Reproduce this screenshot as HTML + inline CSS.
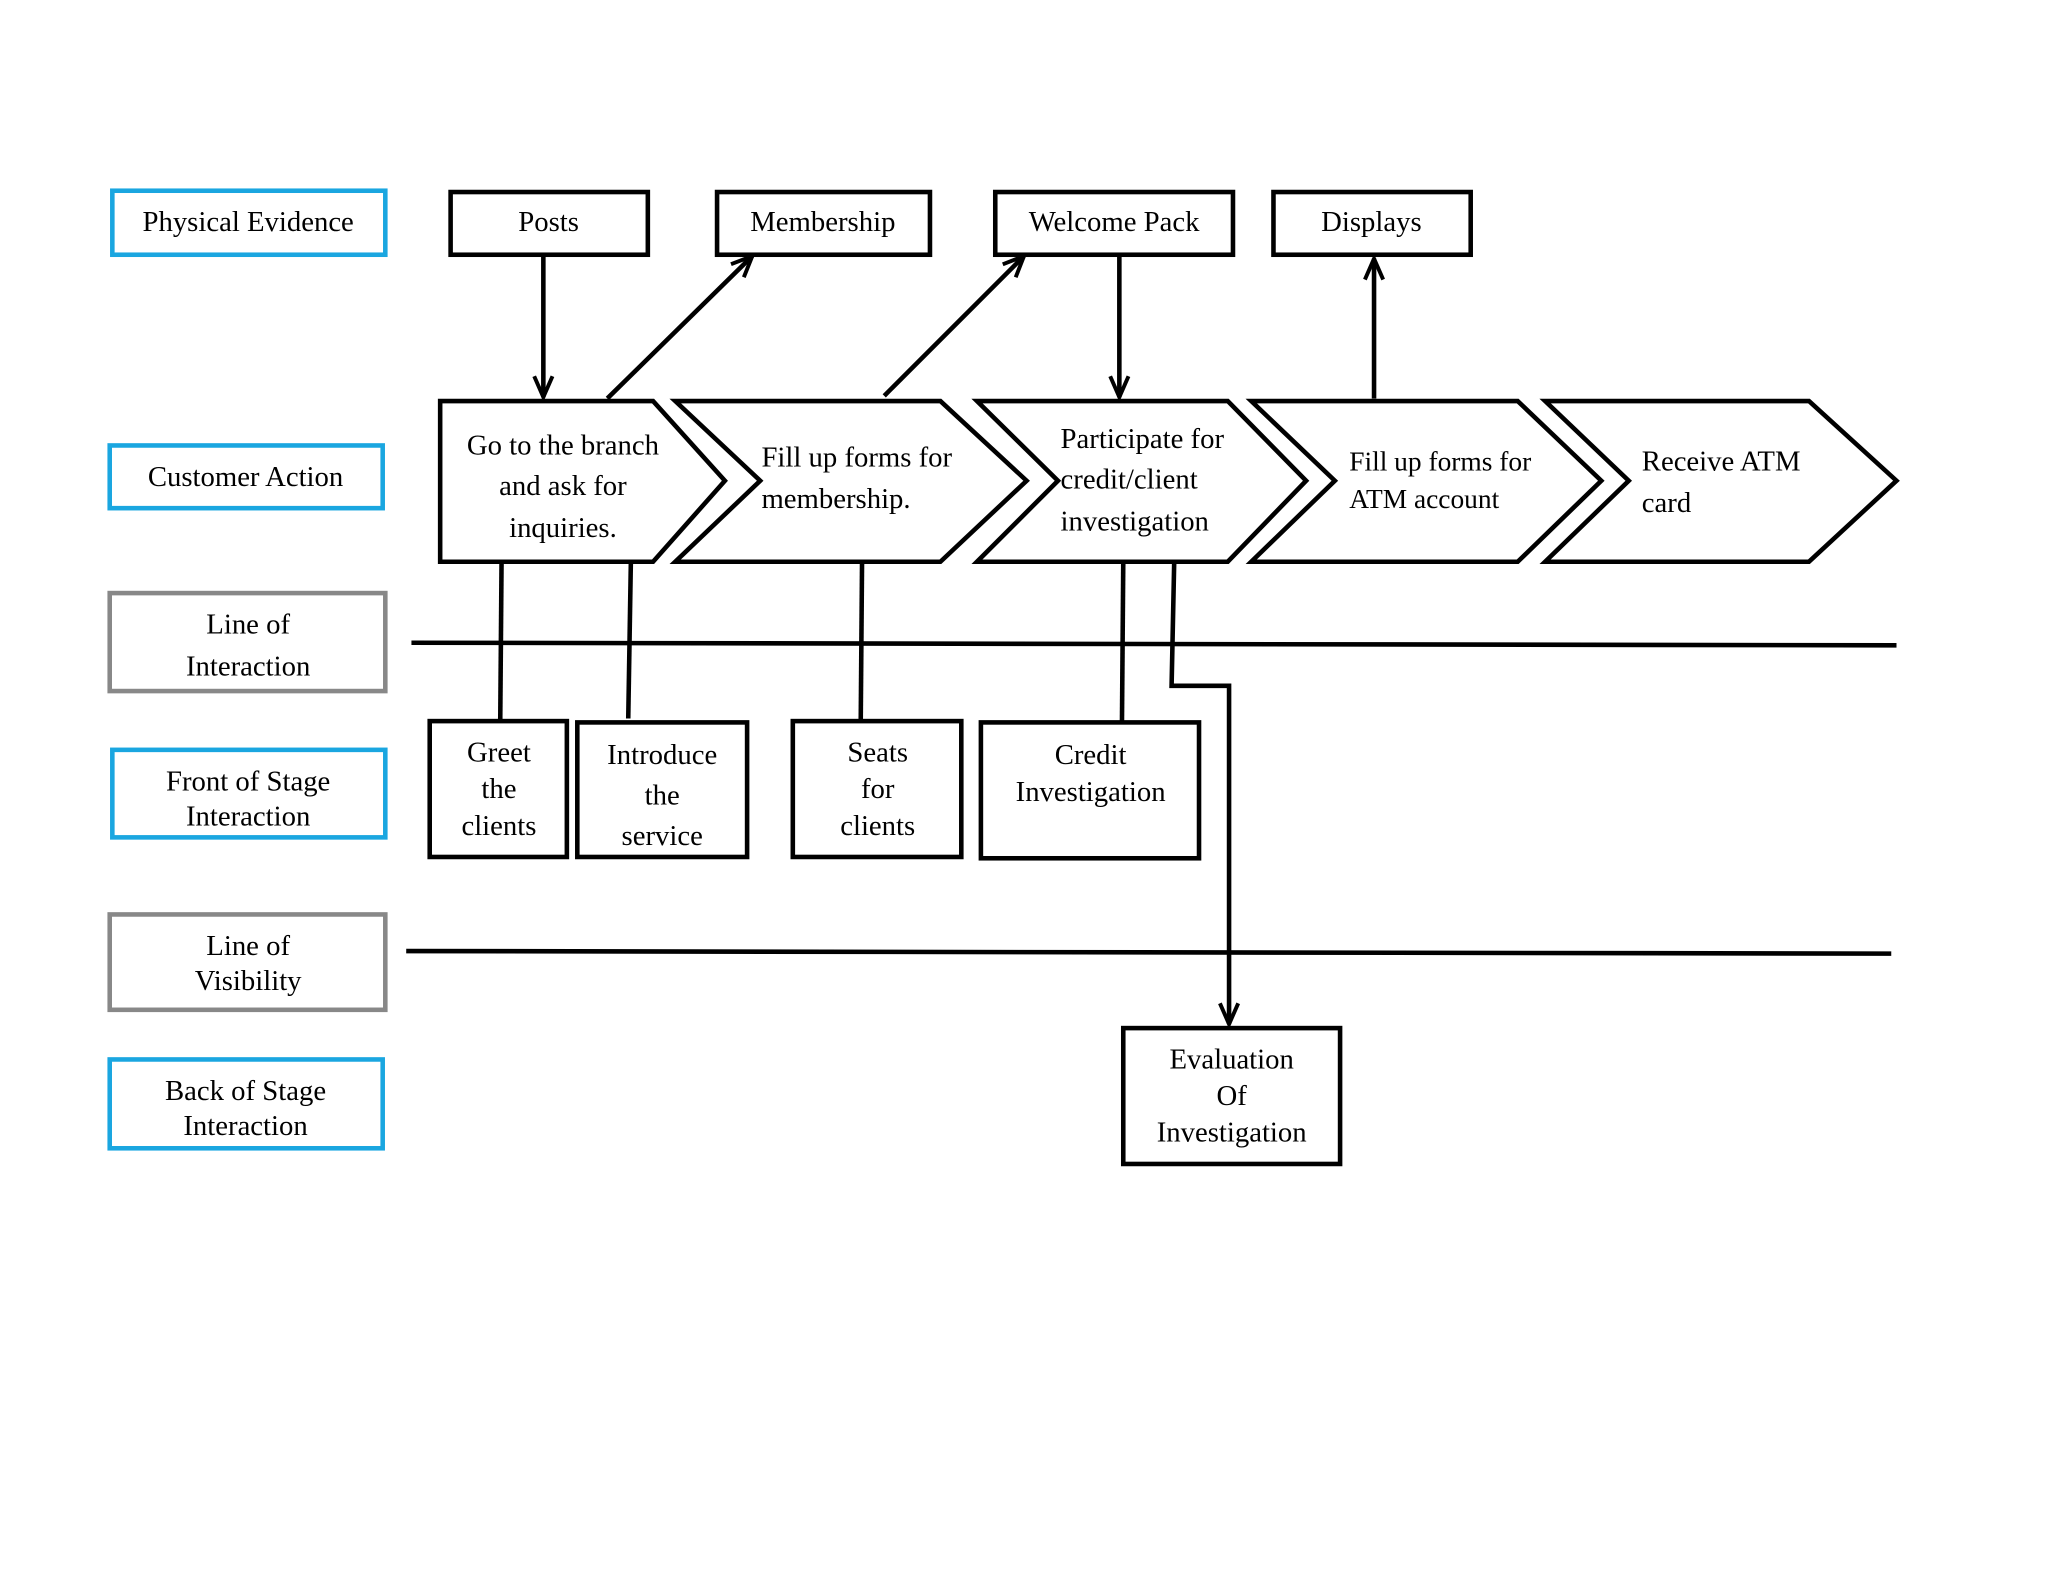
<!DOCTYPE html>
<html><head><meta charset="utf-8"><style>
html,body{margin:0;padding:0;background:#fff;}
svg{display:block;}
text{font-family:"Liberation Serif",serif;font-size:22px;fill:#000;}
</style></head><body>
<svg width="2048" height="1582" viewBox="0 0 1568 1211" preserveAspectRatio="none" xmlns="http://www.w3.org/2000/svg">
<defs>
<marker id="a" markerWidth="10" markerHeight="10" refX="9" refY="5" orient="auto" markerUnits="userSpaceOnUse" viewBox="0 0 10 10">
<path d="M0,0 L9,5 L0,10" fill="none" stroke="#000" stroke-width="2.5"/>
</marker>
<marker id="b" markerWidth="20" markerHeight="20" refX="17" refY="8" orient="auto" markerUnits="userSpaceOnUse" viewBox="0 0 20 16">
<path d="M1,1 L17,8 L1,15" fill="none" stroke="#000" stroke-width="3"/>
</marker>
</defs>
<rect width="1568" height="1211" fill="#fff"/>
<g fill="none" stroke-width="3.5">
<rect x="86" y="146" width="209" height="49" stroke="#1aa6e0"/>
<rect x="84" y="341" width="209" height="48" stroke="#1aa6e0"/>
<rect x="84" y="454" width="211" height="75" stroke="#888"/>
<rect x="86" y="574" width="209" height="67" stroke="#1aa6e0"/>
<rect x="84" y="700" width="211" height="73" stroke="#888"/>
<rect x="84" y="811" width="209" height="68" stroke="#1aa6e0"/>
</g>
<g fill="#fff" stroke="#000" stroke-width="3.5">
<rect x="345" y="147" width="151" height="48"/>
<rect x="549" y="147" width="163" height="48"/>
<rect x="762" y="147" width="182" height="48"/>
<rect x="975" y="147" width="151" height="48"/>
<polygon points="337,307 500,307 555,368 500,430 337,430"/>
<polygon points="517,307 720,307 786,368 720,430 517,430 582,368"/>
<polygon points="748,307 940,307 1000,368 940,430 748,430 810,368"/>
<polygon points="958,307 1162,307 1226,368 1162,430 958,430 1022,368"/>
<polygon points="1183,307 1385,307 1452,368 1385,430 1183,430 1247,368"/>
<rect x="329" y="552" width="105" height="104"/>
<rect x="442" y="553" width="130" height="103"/>
<rect x="607" y="552" width="129" height="104"/>
<rect x="751" y="553" width="167" height="104"/>
<rect x="860" y="787" width="166" height="104"/>
</g>
<g stroke="#000" stroke-width="3.5" fill="none">
<line x1="416" y1="195" x2="416" y2="304" marker-end="url(#b)"/>
<line x1="465" y1="305" x2="576" y2="196" marker-end="url(#b)"/>
<line x1="677" y1="303" x2="784" y2="196" marker-end="url(#b)"/>
<line x1="857" y1="195" x2="857" y2="304" marker-end="url(#b)"/>
<line x1="1052" y1="305" x2="1052" y2="198" marker-end="url(#b)"/>
<line x1="315" y1="492" x2="1452" y2="494"/>
<line x1="311" y1="728" x2="1448" y2="730"/>
<line x1="384" y1="430" x2="383" y2="552"/>
<line x1="483" y1="430" x2="481" y2="550"/>
<line x1="660" y1="430" x2="659" y2="552"/>
<line x1="860" y1="430" x2="859" y2="553"/>
<polyline points="899,430 897,525 941,525 941,784" marker-end="url(#b)"/>
</g>
<g text-anchor="middle">
<text x="190" y="177">Physical Evidence</text>
<text x="188" y="372">Customer Action</text>
<text x="190" y="485">Line of</text>
<text x="190" y="517">Interaction</text>
<text x="190" y="605">Front of Stage</text>
<text x="190" y="632">Interaction</text>
<text x="190" y="731">Line of</text>
<text x="190" y="758">Visibility</text>
<text x="188" y="842">Back of Stage</text>
<text x="188" y="869">Interaction</text>
<text x="420" y="177">Posts</text>
<text x="630" y="177">Membership</text>
<text x="853" y="177">Welcome Pack</text>
<text x="1050" y="177">Displays</text>
<text x="431" y="348">Go to the branch</text>
<text x="431" y="379">and   ask for</text>
<text x="431" y="411">inquiries.</text>
<text x="382" y="583">Greet</text>
<text x="382" y="611">the</text>
<text x="382" y="639">clients</text>
<text x="507" y="585">Introduce</text>
<text x="507" y="616">the</text>
<text x="507" y="647">service</text>
<text x="672" y="583">Seats</text>
<text x="672" y="611">for</text>
<text x="672" y="639">clients</text>
<text x="835" y="585">Credit</text>
<text x="835" y="613">Investigation</text>
<text x="943" y="818">Evaluation</text>
<text x="943" y="846">Of</text>
<text x="943" y="874">Investigation</text>
</g>
<text x="583" y="357">Fill up forms for</text>
<text x="583" y="389">membership.</text>
<text x="812" y="343">Participate for</text>
<text x="812" y="374">credit/client</text>
<text x="812" y="406">investigation</text>
<text x="1033" y="360" style="font-size:21px">Fill up forms for</text>
<text x="1033" y="389" style="font-size:21px">ATM account</text>
<text x="1257" y="360">Receive ATM</text>
<text x="1257" y="392">card</text>
</svg>
</body></html>
